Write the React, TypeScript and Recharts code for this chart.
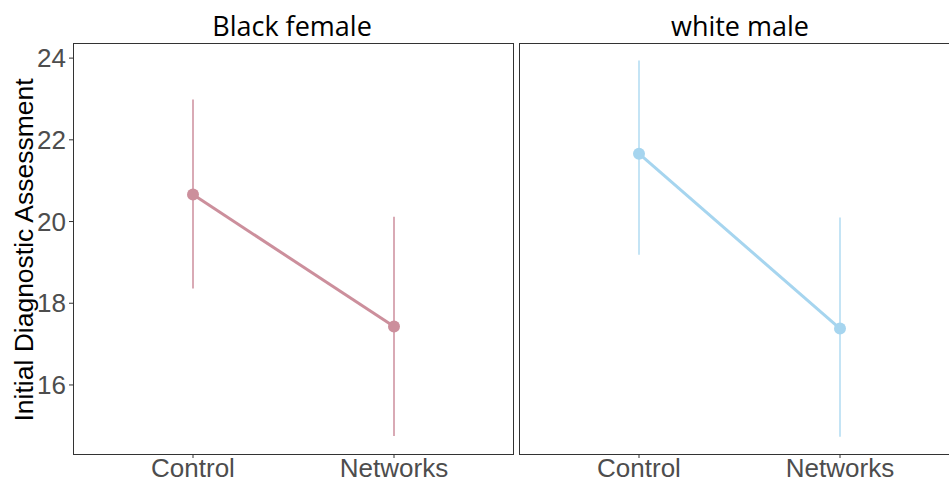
import React from 'react';
import { LineChart, Line, XAxis, YAxis, ErrorBar } from 'recharts';

const categories = ['Control', 'Networks'];
const bfMean = [20.66, 17.43];
const bfLow = [18.36, 14.75];
const bfHigh = [22.99, 20.12];
const wmMean = [21.66, 17.38];
const wmLow = [19.19, 14.73];
const wmHigh = [23.94, 20.1];
const yTicks = [16, 18, 20, 22, 24];

const build = (mean: number[], low: number[], high: number[]) =>
  categories.map((c, i) => ({
    cond: c,
    mean: mean[i],
    err: [mean[i] - low[i], high[i] - mean[i]],
  }));

const bfData = build(bfMean, bfLow, bfHigh);
const wmData = build(wmMean, wmLow, wmHigh);

const tickStyle = { fill: '#4d4d4d', fontSize: 26, fontFamily: 'Liberation Sans, Arial, sans-serif' };

const Panel: React.FC<{ data: any[]; color: string; barColor: string; showY: boolean }> = ({ data, color, barColor, showY }) => (
  <LineChart width={520} height={482} data={data} margin={{ top: 43, right: 7, bottom: 0, left: 0 }}>
    <XAxis
      dataKey="cond"
      padding={{ left: 120, right: 119 }}
      axisLine={false}
      tickLine={{ stroke: '#333' }}
      tickSize={4}
      tickMargin={1}
      height={28}
      tick={tickStyle}
      interval={0}
    />
    <YAxis
      domain={[14.31, 24.37]}
      ticks={yTicks}
      allowDataOverflow
      width={73}
      axisLine={false}
      tickLine={showY ? { stroke: '#333' } : false}
      tick={showY ? tickStyle : false}
      tickSize={4}
      tickMargin={3}
    />
    <Line
      dataKey="mean"
      stroke={color}
      strokeWidth={3}
      dot={{ r: 6, fill: color, stroke: 'none' }}
      activeDot={false}
      isAnimationActive={false}
    >
      <ErrorBar dataKey="err" width={0} stroke={barColor} strokeWidth={2} direction="y" />
    </Line>
  </LineChart>
);

export default function App() {
  return (
    <div style={{ position: 'absolute', left: 0, top: 0, width: 949, height: 482, overflow: 'hidden', background: '#fff' }}>
      <div style={{ position: 'absolute', left: 0, top: 0 }}>
        <Panel data={bfData} color="#cc8f9c" barColor="#d9aab5" showY />
      </div>
      <div style={{ position: 'absolute', left: 446, top: 0 }}>
        <Panel data={wmData} color="#a6d5ef" barColor="#c4e4f5" showY={false} />
      </div>
      <div style={{ position: 'absolute', left: 73, top: 43, width: 439, height: 410, border: '1px solid #333', pointerEvents: 'none' }} />
      <div style={{ position: 'absolute', left: 519, top: 43, width: 439, height: 410, border: '1px solid #333', pointerEvents: 'none' }} />
      <svg width={949} height={482} style={{ position: 'absolute', left: 0, top: 0, pointerEvents: 'none' }}>
        <text x={292} y={36} textAnchor="middle" fontSize={27} fontFamily="Open Sans, sans-serif" fill="#000">Black female</text>
        <text x={740} y={36} textAnchor="middle" fontSize={27} fontFamily="Open Sans, sans-serif" fill="#000">white male</text>
        <text transform="translate(33,250) rotate(-90)" textAnchor="middle" fontSize={26.5} fontFamily="Liberation Sans, Arial, sans-serif" fill="#000">Initial Diagnostic Assessment</text>
      </svg>
    </div>
  );
}
